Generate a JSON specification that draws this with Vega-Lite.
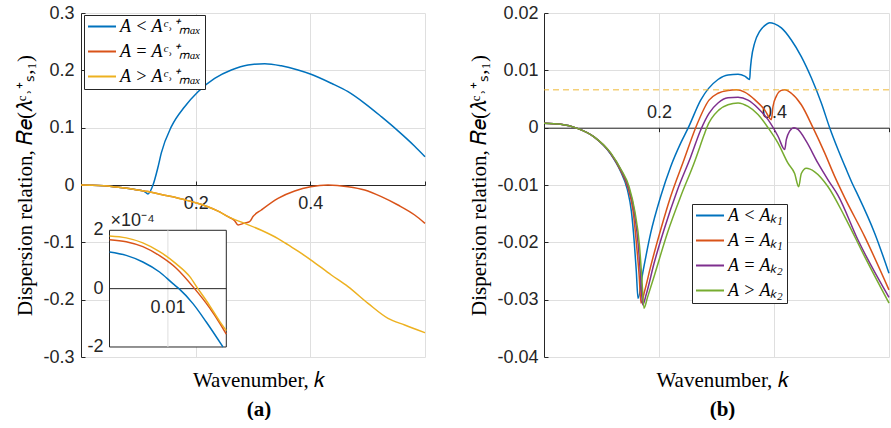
{
  "$schema": "https://vega.github.io/schema/vega-lite/v6.json",
  "background": "white",
  "padding": {"left": 14, "top": 4, "right": 0, "bottom": 0},
  "bounds": "flush",
  "spacing": 119,
  "datasets": {
    "a_main": [
      {"case": "A < Aᶜ˒⁺ₘₐₓ", "k": 0, "v": 0}, {"case": "A < Aᶜ˒⁺ₘₐₓ", "k": 0.02, "v": -0.0004}, {"case": "A < Aᶜ˒⁺ₘₐₓ", "k": 0.04, "v": -0.0015}, {"case": "A < Aᶜ˒⁺ₘₐₓ", "k": 0.06, "v": -0.0035}, {"case": "A < Aᶜ˒⁺ₘₐₓ", "k": 0.08, "v": -0.0058}, {"case": "A < Aᶜ˒⁺ₘₐₓ", "k": 0.1, "v": -0.0088}, {"case": "A < Aᶜ˒⁺ₘₐₓ", "k": 0.11, "v": -0.0108}, {"case": "A < Aᶜ˒⁺ₘₐₓ", "k": 0.1169, "v": -0.0157}, {"case": "A < Aᶜ˒⁺ₘₐₓ", "k": 0.1256, "v": 0}, {"case": "A < Aᶜ˒⁺ₘₐₓ", "k": 0.134, "v": 0.03}, {"case": "A < Aᶜ˒⁺ₘₐₓ", "k": 0.1401, "v": 0.056}, {"case": "A < Aᶜ˒⁺ₘₐₓ", "k": 0.1576, "v": 0.1017}, {"case": "A < Aᶜ˒⁺ₘₐₓ", "k": 0.1808, "v": 0.1366}, {"case": "A < Aᶜ˒⁺ₘₐₓ", "k": 0.2041, "v": 0.1628}, {"case": "A < Aᶜ˒⁺ₘₐₓ", "k": 0.2331, "v": 0.186}, {"case": "A < Aᶜ˒⁺ₘₐₓ", "k": 0.2622, "v": 0.2006}, {"case": "A < Aᶜ˒⁺ₘₐₓ", "k": 0.2913, "v": 0.2093}, {"case": "A < Aᶜ˒⁺ₘₐₓ", "k": 0.3204, "v": 0.2115}, {"case": "A < Aᶜ˒⁺ₘₐₓ", "k": 0.3494, "v": 0.2078}, {"case": "A < Aᶜ˒⁺ₘₐₓ", "k": 0.3785, "v": 0.2006}, {"case": "A < Aᶜ˒⁺ₘₐₓ", "k": 0.4, "v": 0.1936}, {"case": "A < Aᶜ˒⁺ₘₐₓ", "k": 0.4367, "v": 0.1774}, {"case": "A < Aᶜ˒⁺ₘₐₓ", "k": 0.4657, "v": 0.1628}, {"case": "A < Aᶜ˒⁺ₘₐₓ", "k": 0.4948, "v": 0.1425}, {"case": "A < Aᶜ˒⁺ₘₐₓ", "k": 0.5238, "v": 0.1192}, {"case": "A < Aᶜ˒⁺ₘₐₓ", "k": 0.5529, "v": 0.0945}, {"case": "A < Aᶜ˒⁺ₘₐₓ", "k": 0.582, "v": 0.0677}, {"case": "A < Aᶜ˒⁺ₘₐₓ", "k": 0.6, "v": 0.0494},
      {"case": "A = Aᶜ˒⁺ₘₐₓ", "k": 0, "v": 0}, {"case": "A = Aᶜ˒⁺ₘₐₓ", "k": 0.02, "v": -0.0004}, {"case": "A = Aᶜ˒⁺ₘₐₓ", "k": 0.04, "v": -0.0015}, {"case": "A = Aᶜ˒⁺ₘₐₓ", "k": 0.06, "v": -0.0035}, {"case": "A = Aᶜ˒⁺ₘₐₓ", "k": 0.08, "v": -0.0058}, {"case": "A = Aᶜ˒⁺ₘₐₓ", "k": 0.1, "v": -0.0088}, {"case": "A = Aᶜ˒⁺ₘₐₓ", "k": 0.117, "v": -0.0115}, {"case": "A = Aᶜ˒⁺ₘₐₓ", "k": 0.14, "v": -0.0165}, {"case": "A = Aᶜ˒⁺ₘₐₓ", "k": 0.16, "v": -0.0205}, {"case": "A = Aᶜ˒⁺ₘₐₓ", "k": 0.18, "v": -0.0255}, {"case": "A = Aᶜ˒⁺ₘₐₓ", "k": 0.2, "v": -0.031}, {"case": "A = Aᶜ˒⁺ₘₐₓ", "k": 0.22, "v": -0.0375}, {"case": "A = Aᶜ˒⁺ₘₐₓ", "k": 0.24, "v": -0.046}, {"case": "A = Aᶜ˒⁺ₘₐₓ", "k": 0.2564, "v": -0.0552}, {"case": "A = Aᶜ˒⁺ₘₐₓ", "k": 0.268, "v": -0.0622}, {"case": "A = Aᶜ˒⁺ₘₐₓ", "k": 0.2739, "v": -0.0698}, {"case": "A = Aᶜ˒⁺ₘₐₓ", "k": 0.285, "v": -0.0665}, {"case": "A = Aᶜ˒⁺ₘₐₓ", "k": 0.294, "v": -0.064}, {"case": "A = Aᶜ˒⁺ₘₐₓ", "k": 0.3, "v": -0.055}, {"case": "A = Aᶜ˒⁺ₘₐₓ", "k": 0.3145, "v": -0.0436}, {"case": "A = Aᶜ˒⁺ₘₐₓ", "k": 0.3436, "v": -0.0233}, {"case": "A = Aᶜ˒⁺ₘₐₓ", "k": 0.3727, "v": -0.0105}, {"case": "A = Aᶜ˒⁺ₘₐₓ", "k": 0.4006, "v": -0.003}, {"case": "A = Aᶜ˒⁺ₘₐₓ", "k": 0.4308, "v": 0}, {"case": "A = Aᶜ˒⁺ₘₐₓ", "k": 0.4657, "v": -0.0029}, {"case": "A = Aᶜ˒⁺ₘₐₓ", "k": 0.4948, "v": -0.0087}, {"case": "A = Aᶜ˒⁺ₘₐₓ", "k": 0.5238, "v": -0.0203}, {"case": "A = Aᶜ˒⁺ₘₐₓ", "k": 0.5529, "v": -0.0349}, {"case": "A = Aᶜ˒⁺ₘₐₓ", "k": 0.582, "v": -0.0523}, {"case": "A = Aᶜ˒⁺ₘₐₓ", "k": 0.6, "v": -0.0669},
      {"case": "A > Aᶜ˒⁺ₘₐₓ", "k": 0, "v": 0}, {"case": "A > Aᶜ˒⁺ₘₐₓ", "k": 0.02, "v": -0.0004}, {"case": "A > Aᶜ˒⁺ₘₐₓ", "k": 0.04, "v": -0.0015}, {"case": "A > Aᶜ˒⁺ₘₐₓ", "k": 0.06, "v": -0.0035}, {"case": "A > Aᶜ˒⁺ₘₐₓ", "k": 0.08, "v": -0.0058}, {"case": "A > Aᶜ˒⁺ₘₐₓ", "k": 0.1, "v": -0.0088}, {"case": "A > Aᶜ˒⁺ₘₐₓ", "k": 0.117, "v": -0.0115}, {"case": "A > Aᶜ˒⁺ₘₐₓ", "k": 0.14, "v": -0.0165}, {"case": "A > Aᶜ˒⁺ₘₐₓ", "k": 0.16, "v": -0.0205}, {"case": "A > Aᶜ˒⁺ₘₐₓ", "k": 0.18, "v": -0.0255}, {"case": "A > Aᶜ˒⁺ₘₐₓ", "k": 0.2, "v": -0.031}, {"case": "A > Aᶜ˒⁺ₘₐₓ", "k": 0.22, "v": -0.0375}, {"case": "A > Aᶜ˒⁺ₘₐₓ", "k": 0.24, "v": -0.046}, {"case": "A > Aᶜ˒⁺ₘₐₓ", "k": 0.2564, "v": -0.0552}, {"case": "A > Aᶜ˒⁺ₘₐₓ", "k": 0.2855, "v": -0.0669}, {"case": "A > Aᶜ˒⁺ₘₐₓ", "k": 0.3145, "v": -0.079}, {"case": "A > Aᶜ˒⁺ₘₐₓ", "k": 0.3436, "v": -0.0935}, {"case": "A > Aᶜ˒⁺ₘₐₓ", "k": 0.36, "v": -0.1035}, {"case": "A > Aᶜ˒⁺ₘₐₓ", "k": 0.3785, "v": -0.1155}, {"case": "A > Aᶜ˒⁺ₘₐₓ", "k": 0.4, "v": -0.13}, {"case": "A > Aᶜ˒⁺ₘₐₓ", "k": 0.4366, "v": -0.157}, {"case": "A > Aᶜ˒⁺ₘₐₓ", "k": 0.4657, "v": -0.1773}, {"case": "A > Aᶜ˒⁺ₘₐₓ", "k": 0.5006, "v": -0.2064}, {"case": "A > Aᶜ˒⁺ₘₐₓ", "k": 0.5355, "v": -0.2326}, {"case": "A > Aᶜ˒⁺ₘₐₓ", "k": 0.5646, "v": -0.2442}, {"case": "A > Aᶜ˒⁺ₘₐₓ", "k": 0.6, "v": -0.2576}
    ],
    "a_inset": [
      {"case": "A < Aᶜ˒⁺ₘₐₓ", "k": 0, "v": 0.0001257}, {"case": "A < Aᶜ˒⁺ₘₐₓ", "k": 0.00286, "v": 0.000114}, {"case": "A < Aᶜ˒⁺ₘₐₓ", "k": 0.00571, "v": 0.0000914}, {"case": "A < Aᶜ˒⁺ₘₐₓ", "k": 0.00857, "v": 0.0000571}, {"case": "A < Aᶜ˒⁺ₘₐₓ", "k": 0.01086, "v": 0.0000171}, {"case": "A < Aᶜ˒⁺ₘₐₓ", "k": 0.01189, "v": 0}, {"case": "A < Aᶜ˒⁺ₘₐₓ", "k": 0.01429, "v": -0.0000514}, {"case": "A < Aᶜ˒⁺ₘₐₓ", "k": 0.01657, "v": -0.0001143}, {"case": "A < Aᶜ˒⁺ₘₐₓ", "k": 0.01943, "v": -0.0002},
      {"case": "A = Aᶜ˒⁺ₘₐₓ", "k": 0, "v": 0.000168}, {"case": "A = Aᶜ˒⁺ₘₐₓ", "k": 0.00286, "v": 0.000161}, {"case": "A = Aᶜ˒⁺ₘₐₓ", "k": 0.00571, "v": 0.000144}, {"case": "A = Aᶜ˒⁺ₘₐₓ", "k": 0.00857, "v": 0.000113}, {"case": "A = Aᶜ˒⁺ₘₐₓ", "k": 0.01143, "v": 0.00007}, {"case": "A = Aᶜ˒⁺ₘₐₓ", "k": 0.01457, "v": 0}, {"case": "A = Aᶜ˒⁺ₘₐₓ", "k": 0.01714, "v": -0.000066}, {"case": "A = Aᶜ˒⁺ₘₐₓ", "k": 0.01886, "v": -0.000118}, {"case": "A = Aᶜ˒⁺ₘₐₓ", "k": 0.02, "v": -0.000156},
      {"case": "A > Aᶜ˒⁺ₘₐₓ", "k": 0, "v": 0.0001806}, {"case": "A > Aᶜ˒⁺ₘₐₓ", "k": 0.00286, "v": 0.000174}, {"case": "A > Aᶜ˒⁺ₘₐₓ", "k": 0.00571, "v": 0.000157}, {"case": "A > Aᶜ˒⁺ₘₐₓ", "k": 0.00857, "v": 0.000127}, {"case": "A > Aᶜ˒⁺ₘₐₓ", "k": 0.01143, "v": 0.000085}, {"case": "A > Aᶜ˒⁺ₘₐₓ", "k": 0.01371, "v": 0.000042}, {"case": "A > Aᶜ˒⁺ₘₐₓ", "k": 0.01514, "v": 0}, {"case": "A > Aᶜ˒⁺ₘₐₓ", "k": 0.01714, "v": -0.000058}, {"case": "A > Aᶜ˒⁺ₘₐₓ", "k": 0.01886, "v": -0.000112}, {"case": "A > Aᶜ˒⁺ₘₐₓ", "k": 0.02, "v": -0.000144}
    ],
    "b_main": [
      {"case": "A < Aₖ₁", "k": 0, "v": 0.00076}, {"case": "A < Aₖ₁", "k": 0.029, "v": 0.00058}, {"case": "A < Aₖ₁", "k": 0.058, "v": -0.00012}, {"case": "A < Aₖ₁", "k": 0.087, "v": -0.0016}, {"case": "A < Aₖ₁", "k": 0.116, "v": -0.0046}, {"case": "A < Aₖ₁", "k": 0.133, "v": -0.0076}, {"case": "A < Aₖ₁", "k": 0.145, "v": -0.0108}, {"case": "A < Aₖ₁", "k": 0.152, "v": -0.0146}, {"case": "A < Aₖ₁", "k": 0.157, "v": -0.02}, {"case": "A < Aₖ₁", "k": 0.1605, "v": -0.025}, {"case": "A < Aₖ₁", "k": 0.1635, "v": -0.0298}, {"case": "A < Aₖ₁", "k": 0.1716, "v": -0.0254}, {"case": "A < Aₖ₁", "k": 0.1855, "v": -0.0184}, {"case": "A < Aₖ₁", "k": 0.2029, "v": -0.012}, {"case": "A < Aₖ₁", "k": 0.2203, "v": -0.0068}, {"case": "A < Aₖ₁", "k": 0.2377, "v": -0.0027}, {"case": "A < Aₖ₁", "k": 0.251, "v": 0}, {"case": "A < Aₖ₁", "k": 0.2725, "v": 0.0048}, {"case": "A < Aₖ₁", "k": 0.3026, "v": 0.0084}, {"case": "A < Aₖ₁", "k": 0.32, "v": 0.0092}, {"case": "A < Aₖ₁", "k": 0.3374, "v": 0.0093}, {"case": "A < Aₖ₁", "k": 0.349, "v": 0.009}, {"case": "A < Aₖ₁", "k": 0.3577, "v": 0.0084}, {"case": "A < Aₖ₁", "k": 0.3588, "v": 0.0101}, {"case": "A < Aₖ₁", "k": 0.3606, "v": 0.0119}, {"case": "A < Aₖ₁", "k": 0.3664, "v": 0.0148}, {"case": "A < Aₖ₁", "k": 0.3751, "v": 0.0168}, {"case": "A < Aₖ₁", "k": 0.3838, "v": 0.0178}, {"case": "A < Aₖ₁", "k": 0.3925, "v": 0.0183}, {"case": "A < Aₖ₁", "k": 0.4012, "v": 0.0181}, {"case": "A < Aₖ₁", "k": 0.4128, "v": 0.0174}, {"case": "A < Aₖ₁", "k": 0.4301, "v": 0.0153}, {"case": "A < Aₖ₁", "k": 0.4475, "v": 0.0124}, {"case": "A < Aₖ₁", "k": 0.4649, "v": 0.0087}, {"case": "A < Aₖ₁", "k": 0.4823, "v": 0.0043}, {"case": "A < Aₖ₁", "k": 0.4968, "v": 0}, {"case": "A < Aₖ₁", "k": 0.5113, "v": -0.0038}, {"case": "A < Aₖ₁", "k": 0.5258, "v": -0.0073}, {"case": "A < Aₖ₁", "k": 0.5374, "v": -0.01}, {"case": "A < Aₖ₁", "k": 0.5461, "v": -0.0118}, {"case": "A < Aₖ₁", "k": 0.5751, "v": -0.0184}, {"case": "A < Aₖ₁", "k": 0.6, "v": -0.0254},
      {"case": "A = Aₖ₁", "k": 0, "v": 0.00076}, {"case": "A = Aₖ₁", "k": 0.029, "v": 0.00058}, {"case": "A = Aₖ₁", "k": 0.058, "v": -0.00012}, {"case": "A = Aₖ₁", "k": 0.087, "v": -0.0016}, {"case": "A = Aₖ₁", "k": 0.116, "v": -0.0045}, {"case": "A = Aₖ₁", "k": 0.133, "v": -0.0074}, {"case": "A = Aₖ₁", "k": 0.146, "v": -0.0105}, {"case": "A = Aₖ₁", "k": 0.155, "v": -0.0146}, {"case": "A = Aₖ₁", "k": 0.161, "v": -0.0205}, {"case": "A = Aₖ₁", "k": 0.1655, "v": -0.0258}, {"case": "A = Aₖ₁", "k": 0.1687, "v": -0.0306}, {"case": "A = Aₖ₁", "k": 0.175, "v": -0.0285}, {"case": "A = Aₖ₁", "k": 0.1855, "v": -0.0242}, {"case": "A = Aₖ₁", "k": 0.2029, "v": -0.0178}, {"case": "A = Aₖ₁", "k": 0.2203, "v": -0.012}, {"case": "A = Aₖ₁", "k": 0.2435, "v": -0.0056}, {"case": "A = Aₖ₁", "k": 0.2638, "v": 0}, {"case": "A = Aₖ₁", "k": 0.287, "v": 0.0048}, {"case": "A = Aₖ₁", "k": 0.3026, "v": 0.006}, {"case": "A = Aₖ₁", "k": 0.32, "v": 0.0065}, {"case": "A = Aₖ₁", "k": 0.3345, "v": 0.0066}, {"case": "A = Aₖ₁", "k": 0.349, "v": 0.0062}, {"case": "A = Aₖ₁", "k": 0.3664, "v": 0.0049}, {"case": "A = Aₖ₁", "k": 0.3838, "v": 0.0031}, {"case": "A = Aₖ₁", "k": 0.3954, "v": 0.0014}, {"case": "A = Aₖ₁", "k": 0.3983, "v": 0.0037}, {"case": "A = Aₖ₁", "k": 0.4041, "v": 0.0055}, {"case": "A = Aₖ₁", "k": 0.4128, "v": 0.0065}, {"case": "A = Aₖ₁", "k": 0.4186, "v": 0.0066}, {"case": "A = Aₖ₁", "k": 0.4301, "v": 0.006}, {"case": "A = Aₖ₁", "k": 0.4475, "v": 0.004}, {"case": "A = Aₖ₁", "k": 0.4678, "v": 0}, {"case": "A = Aₖ₁", "k": 0.4881, "v": -0.0044}, {"case": "A = Aₖ₁", "k": 0.5055, "v": -0.0085}, {"case": "A = Aₖ₁", "k": 0.5229, "v": -0.0122}, {"case": "A = Aₖ₁", "k": 0.5577, "v": -0.019}, {"case": "A = Aₖ₁", "k": 0.6, "v": -0.0283},
      {"case": "A = Aₖ₂", "k": 0, "v": 0.00076}, {"case": "A = Aₖ₂", "k": 0.029, "v": 0.00058}, {"case": "A = Aₖ₂", "k": 0.058, "v": -0.00012}, {"case": "A = Aₖ₂", "k": 0.087, "v": -0.0016}, {"case": "A = Aₖ₂", "k": 0.116, "v": -0.0045}, {"case": "A = Aₖ₂", "k": 0.134, "v": -0.0074}, {"case": "A = Aₖ₂", "k": 0.147, "v": -0.0104}, {"case": "A = Aₖ₂", "k": 0.157, "v": -0.0146}, {"case": "A = Aₖ₂", "k": 0.164, "v": -0.0205}, {"case": "A = Aₖ₂", "k": 0.168, "v": -0.026}, {"case": "A = Aₖ₂", "k": 0.1716, "v": -0.0309}, {"case": "A = Aₖ₂", "k": 0.178, "v": -0.029}, {"case": "A = Aₖ₂", "k": 0.1913, "v": -0.0237}, {"case": "A = Aₖ₂", "k": 0.2087, "v": -0.0178}, {"case": "A = Aₖ₂", "k": 0.2319, "v": -0.0109}, {"case": "A = Aₖ₂", "k": 0.2551, "v": -0.0051}, {"case": "A = Aₖ₂", "k": 0.2725, "v": -0.0004}, {"case": "A = Aₖ₂", "k": 0.287, "v": 0.0025}, {"case": "A = Aₖ₂", "k": 0.3026, "v": 0.0043}, {"case": "A = Aₖ₂", "k": 0.32, "v": 0.0052}, {"case": "A = Aₖ₂", "k": 0.3374, "v": 0.0053}, {"case": "A = Aₖ₂", "k": 0.3548, "v": 0.0048}, {"case": "A = Aₖ₂", "k": 0.3722, "v": 0.0034}, {"case": "A = Aₖ₂", "k": 0.3896, "v": 0.0014}, {"case": "A = Aₖ₂", "k": 0.407, "v": -0.0015}, {"case": "A = Aₖ₂", "k": 0.4186, "v": -0.0038}, {"case": "A = Aₖ₂", "k": 0.4214, "v": -0.0021}, {"case": "A = Aₖ₂", "k": 0.4272, "v": -0.0006}, {"case": "A = Aₖ₂", "k": 0.4348, "v": 0}, {"case": "A = Aₖ₂", "k": 0.4417, "v": -0.0003}, {"case": "A = Aₖ₂", "k": 0.4562, "v": -0.0024}, {"case": "A = Aₖ₂", "k": 0.4765, "v": -0.0062}, {"case": "A = Aₖ₂", "k": 0.4939, "v": -0.0091}, {"case": "A = Aₖ₂", "k": 0.5113, "v": -0.0118}, {"case": "A = Aₖ₂", "k": 0.5461, "v": -0.0196}, {"case": "A = Aₖ₂", "k": 0.6, "v": -0.0296},
      {"case": "A > Aₖ₂", "k": 0, "v": 0.00076}, {"case": "A > Aₖ₂", "k": 0.029, "v": 0.00058}, {"case": "A > Aₖ₂", "k": 0.058, "v": -0.00012}, {"case": "A > Aₖ₂", "k": 0.087, "v": -0.0016}, {"case": "A > Aₖ₂", "k": 0.116, "v": -0.0044}, {"case": "A > Aₖ₂", "k": 0.134, "v": -0.0073}, {"case": "A > Aₖ₂", "k": 0.148, "v": -0.0103}, {"case": "A > Aₖ₂", "k": 0.158, "v": -0.0146}, {"case": "A > Aₖ₂", "k": 0.166, "v": -0.0205}, {"case": "A > Aₖ₂", "k": 0.17, "v": -0.026}, {"case": "A > Aₖ₂", "k": 0.1739, "v": -0.0315}, {"case": "A > Aₖ₂", "k": 0.18, "v": -0.0296}, {"case": "A > Aₖ₂", "k": 0.1913, "v": -0.026}, {"case": "A > Aₖ₂", "k": 0.2145, "v": -0.0184}, {"case": "A > Aₖ₂", "k": 0.2377, "v": -0.012}, {"case": "A > Aₖ₂", "k": 0.2609, "v": -0.0062}, {"case": "A > Aₖ₂", "k": 0.2783, "v": -0.0013}, {"case": "A > Aₖ₂", "k": 0.283, "v": 0}, {"case": "A > Aₖ₂", "k": 0.3043, "v": 0.0031}, {"case": "A > Aₖ₂", "k": 0.32, "v": 0.004}, {"case": "A > Aₖ₂", "k": 0.3374, "v": 0.0043}, {"case": "A > Aₖ₂", "k": 0.3548, "v": 0.0037}, {"case": "A > Aₖ₂", "k": 0.3722, "v": 0.0023}, {"case": "A > Aₖ₂", "k": 0.3896, "v": 0}, {"case": "A > Aₖ₂", "k": 0.407, "v": -0.0027}, {"case": "A > Aₖ₂", "k": 0.4243, "v": -0.0062}, {"case": "A > Aₖ₂", "k": 0.4359, "v": -0.008}, {"case": "A > Aₖ₂", "k": 0.4429, "v": -0.0103}, {"case": "A > Aₖ₂", "k": 0.4475, "v": -0.008}, {"case": "A > Aₖ₂", "k": 0.4562, "v": -0.0071}, {"case": "A > Aₖ₂", "k": 0.4707, "v": -0.0077}, {"case": "A > Aₖ₂", "k": 0.494, "v": -0.0103}, {"case": "A > Aₖ₂", "k": 0.5229, "v": -0.0155}, {"case": "A > Aₖ₂", "k": 0.5577, "v": -0.0225}, {"case": "A > Aₖ₂", "k": 0.6, "v": -0.0306}
    ]
  },
  "hconcat": [
    {
      "width": 344,
      "height": 344,
      "title": {"text": "Wavenumber,  𝑘", "subtitle": "(a)", "dx": 6},
      "layer": [
        {
          "data": {"name": "a_main"},
          "mark": {"type": "line", "strokeWidth": 1.5, "interpolate": "monotone"},
          "encoding": {
            "x": {"field": "k", "type": "quantitative", "scale": {"domain": [0, 0.6], "nice": false, "zero": false},
              "axis": {"orient": "bottom", "offset": -172, "values": [0.2, 0.4, 0.6], "labelExpr": "datum.value > 0.5 ? '' : format(datum.value, '.1f')", "grid": true, "tickSize": -4, "labelPadding": 13, "title": null, "labelFlush": false, "labelOverlap": false}},
            "y": {"field": "v", "type": "quantitative", "scale": {"domain": [-0.3, 0.3], "nice": false, "zero": false},
              "axis": {"values": [-0.3, -0.2, -0.1, 0, 0.1, 0.2, 0.3], "labelExpr": "datum.value == 0 ? '0' : (datum.value < 0 ? '-' : '') + format(abs(datum.value), '.1f')", "grid": true, "tickSize": -4, "labelPadding": 11, "title": "Dispersion relation,  𝑅𝑒(𝜆ᶜ˒⁺ₛ,₁)", "titleFont": "Liberation Serif", "titlePadding": 7, "labelFlush": false, "labelOverlap": false}},
            "color": {"field": "case", "type": "nominal",
              "scale": {"domain": ["A < Aᶜ˒⁺ₘₐₓ", "A = Aᶜ˒⁺ₘₐₓ", "A > Aᶜ˒⁺ₘₐₓ"], "range": ["#0072BD", "#D95319", "#EDB120"]},
              "legend": {"orient": "none", "legendX": 3, "legendY": 2, "title": null}}
          }
        },
        {
          "layer": [
            {
              "data": {"values": [{}]},
              "mark": {"type": "rect", "fill": "white", "stroke": "#262626", "strokeWidth": 1},
              "encoding": {
                "x": {"datum": 0, "type": "quantitative", "scale": {"domain": [-0.00488, 0.05402], "nice": false, "zero": false}, "axis": null},
                "x2": {"datum": 0.02},
                "y": {"datum": -0.0002, "type": "quantitative", "scale": {"domain": [-0.0002343, 0.0009448], "nice": false, "zero": false}, "axis": null},
                "y2": {"datum": 0.0002}
              }
            },
            {
              "data": {"values": [{}]},
              "mark": {"type": "rule", "color": "#dfdfdf", "strokeWidth": 1},
              "encoding": {"x": {"datum": 0.01, "type": "quantitative"}, "y": {"datum": -0.0002, "type": "quantitative"}, "y2": {"datum": 0.0002}}
            },
            {
              "data": {"values": [{}]},
              "mark": {"type": "rule", "color": "#262626", "strokeWidth": 1},
              "encoding": {"x": {"datum": 0, "type": "quantitative"}, "x2": {"datum": 0.02}, "y": {"datum": 0, "type": "quantitative"}}
            },
            {
              "data": {"name": "a_inset"},
              "mark": {"type": "line", "strokeWidth": 1.5, "interpolate": "monotone"},
              "encoding": {
                "x": {"field": "k", "type": "quantitative"},
                "y": {"field": "v", "type": "quantitative"},
                "color": {"field": "case", "type": "nominal"}
              }
            },
            {
              "data": {"values": [{}]},
              "mark": {"type": "text", "text": "2", "align": "right", "baseline": "middle", "dx": -6, "font": "Liberation Sans", "fontSize": 18, "color": "#262626"},
              "encoding": {"x": {"datum": 0, "type": "quantitative"}, "y": {"datum": 0.0002, "type": "quantitative"}}
            },
            {
              "data": {"values": [{}]},
              "mark": {"type": "text", "text": "0", "align": "right", "baseline": "middle", "dx": -6, "font": "Liberation Sans", "fontSize": 18, "color": "#262626"},
              "encoding": {"x": {"datum": 0, "type": "quantitative"}, "y": {"datum": 0, "type": "quantitative"}}
            },
            {
              "data": {"values": [{}]},
              "mark": {"type": "text", "text": "-2", "align": "right", "baseline": "middle", "dx": -6, "font": "Liberation Sans", "fontSize": 18, "color": "#262626"},
              "encoding": {"x": {"datum": 0, "type": "quantitative"}, "y": {"datum": -0.0002, "type": "quantitative"}}
            },
            {
              "data": {"values": [{}]},
              "mark": {"type": "text", "text": "0.01", "align": "center", "baseline": "top", "dy": 10, "font": "Liberation Sans", "fontSize": 18, "color": "#262626"},
              "encoding": {"x": {"datum": 0.01, "type": "quantitative"}, "y": {"datum": 0, "type": "quantitative"}}
            },
            {
              "data": {"values": [{}]},
              "mark": {"type": "text", "text": "×10⁻⁴", "align": "left", "baseline": "alphabetic", "dx": 1, "dy": -4, "font": "Liberation Sans", "fontSize": 18, "color": "#262626"},
              "encoding": {"x": {"datum": 0, "type": "quantitative"}, "y": {"datum": 0.0002, "type": "quantitative"}}
            }
          ]
        }
      ],
      "resolve": {"scale": {"x": "independent", "y": "independent"}}
    },
    {
      "width": 345,
      "height": 344,
      "title": {"text": "Wavenumber,  𝑘", "subtitle": "(b)", "dx": 6},
      "layer": [
        {
          "data": {"name": "b_main"},
          "mark": {"type": "line", "strokeWidth": 1.5, "interpolate": "monotone"},
          "encoding": {
            "x": {"field": "k", "type": "quantitative", "scale": {"domain": [0, 0.6], "nice": false, "zero": false},
              "axis": {"orient": "top", "offset": -114.7, "values": [0.2, 0.4, 0.6], "labelExpr": "datum.value > 0.5 ? '' : format(datum.value, '.1f')", "grid": true, "tickSize": -4, "labelPadding": 10, "title": null, "labelFlush": false, "labelOverlap": false}},
            "y": {"field": "v", "type": "quantitative", "scale": {"domain": [-0.04, 0.02], "nice": false, "zero": false},
              "axis": {"values": [-0.04, -0.03, -0.02, -0.01, 0, 0.01, 0.02], "labelExpr": "datum.value == 0 ? '0' : (datum.value < 0 ? '-' : '') + format(abs(datum.value), '.2f')", "grid": true, "tickSize": -4, "labelPadding": 10, "title": "Dispersion relation,  𝑅𝑒(𝜆ᶜ˒⁺ₛ,₁)", "titleFont": "Liberation Serif", "titlePadding": 7, "labelFlush": false, "labelOverlap": false}},
            "color": {"field": "case", "type": "nominal",
              "scale": {"domain": ["A < Aₖ₁", "A = Aₖ₁", "A = Aₖ₂", "A > Aₖ₂"], "range": ["#0072BD", "#D95319", "#7E2F8E", "#77AC30"]},
              "legend": {"orient": "none", "legendX": 148, "legendY": 191, "title": null}}
          }
        },
        {
          "data": {"values": [{}]},
          "mark": {"type": "rule", "color": "#EDB120", "opacity": 0.6, "strokeDash": [6, 4], "strokeWidth": 1.5},
          "encoding": {"y": {"datum": 0.00663, "type": "quantitative"}}
        }
      ]
    }
  ],
  "resolve": {"scale": {"color": "independent"}, "legend": {"color": "independent"}},
  "config": {
    "view": {"stroke": null},
    "axis": {"domainColor": "#262626", "tickColor": "#262626", "labelColor": "#262626", "labelFont": "Liberation Sans", "labelFontSize": 18, "gridColor": "#dfdfdf", "gridWidth": 1, "gridOpacity": 1, "titleFont": "Liberation Serif", "titleFontSize": 21, "titleFontWeight": "normal", "titleColor": "#000000"},
    "legend": {"labelFont": "Liberation Serif", "labelFontSize": 18, "labelFontStyle": "italic", "labelColor": "#000000", "symbolType": "stroke", "symbolStrokeWidth": 2, "symbolSize": 784, "strokeColor": "#262626", "fillColor": "white", "padding": 3, "rowPadding": 6, "clipHeight": 17, "labelOffset": 3, "labelLimit": 200},
    "title": {"orient": "bottom", "anchor": "middle", "font": "Liberation Serif", "fontSize": 21, "fontWeight": "normal", "color": "#000000", "subtitleFont": "Liberation Serif", "subtitleFontSize": 21, "subtitleFontWeight": "bold", "subtitleColor": "#000000", "subtitlePadding": 8, "offset": 4}
  }
}
